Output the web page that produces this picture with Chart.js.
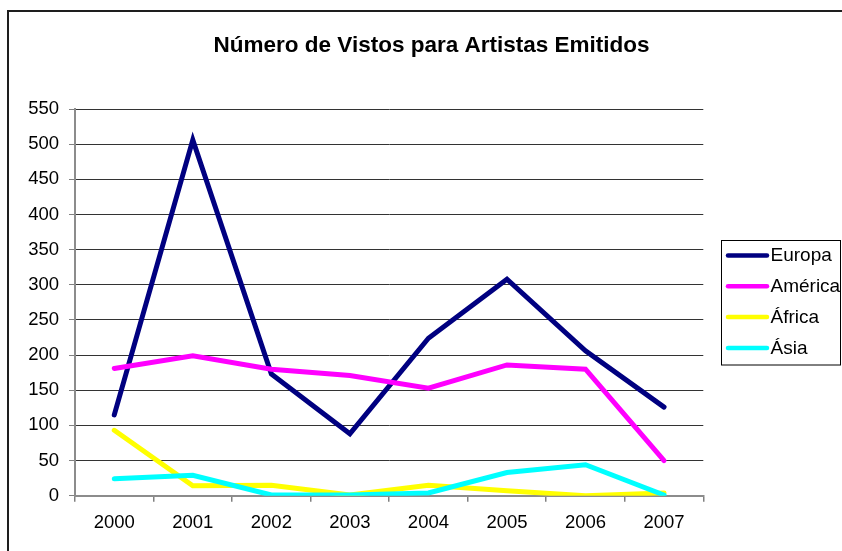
<!DOCTYPE html>
<html>
<head>
<meta charset="utf-8">
<script src="https://cdn.jsdelivr.net/npm/chart.js@4.4.1/dist/chart.umd.min.js"></script>
<style>
  html, body { margin: 0; padding: 0; background: #ffffff; overflow: hidden; }
  #wrap { position: relative; width: 842px; height: 551px; }
  canvas { display: block; }
</style>
</head>
<body>
<div id="wrap"><canvas id="c" width="842" height="551"></canvas></div>
<script>
const chartTitle = 'Número de Vistos para Artistas Emitidos';
const years = ['2000', '2001', '2002', '2003', '2004', '2005', '2006', '2007'];
const seriesNames = ['Europa', 'América', 'África', 'Ásia'];
const seriesColors = ['#000080', '#FF00FF', '#FFFF00', '#00FFFF'];
const europa = [115, 506, 173, 88, 224, 308, 206, 126];
const america = [181, 199, 180, 171, 153, 186, 180, 50];
const africa = [93, 14, 15, 1, 15, 7, 0, 4];
const asia = [24, 29, 1, 1, 4, 33, 44, 1];
const yTicks = [0, 50, 100, 150, 200, 250, 300, 350, 400, 450, 500, 550];

const FONT = '"Liberation Sans", Arial, sans-serif';
const seriesValues = [europa, america, africa, asia];

const frameAndLegend = {
  id: 'frameAndLegend',
  beforeDraw(chart) {
    const ctx = chart.ctx;
    ctx.save();
    ctx.fillStyle = '#ffffff';
    ctx.fillRect(0, 0, chart.width, chart.height);
    // outer chart border
    ctx.strokeStyle = '#1e1e1e';
    ctx.lineWidth = 2;
    ctx.strokeRect(8, 11, 900, 600);
    // title
    ctx.fillStyle = '#000000';
    ctx.font = 'bold 22.5px ' + FONT;
    ctx.textAlign = 'center';
    ctx.textBaseline = 'alphabetic';
    ctx.fillText(chartTitle, 431.5, 52);
    ctx.restore();
  },
  afterDraw(chart) {
    const ctx = chart.ctx;
    ctx.save();
    // legend box
    ctx.strokeStyle = '#000000';
    ctx.lineWidth = 1;
    ctx.strokeRect(721.5, 240.5, 119, 124.5);
    ctx.font = '19px ' + FONT;
    ctx.textAlign = 'left';
    ctx.textBaseline = 'middle';
    chart.data.datasets.forEach((ds, i) => {
      const y = 255.5 + i * 30.8;
      ctx.strokeStyle = ds.borderColor;
      ctx.lineWidth = 4.5;
      ctx.lineCap = 'round';
      ctx.beginPath();
      ctx.moveTo(728, y);
      ctx.lineTo(767, y);
      ctx.stroke();
      ctx.fillStyle = '#000000';
      ctx.fillText(ds.label, 770.5, y + 0.5);
    });
    ctx.restore();
  }
};

const datasets = seriesNames.map((name, i) => ({
  label: name,
  data: seriesValues[i],
  borderColor: seriesColors[i],
  backgroundColor: seriesColors[i],
  borderWidth: 5,
  borderCapStyle: 'round',
  borderJoinStyle: 'miter',
  pointRadius: 0,
  pointHoverRadius: 0,
  tension: 0,
  fill: false,
  order: seriesNames.length - i
}));

new Chart(document.getElementById('c'), {
  type: 'line',
  data: { labels: years, datasets: datasets },
  plugins: [frameAndLegend],
  options: {
    responsive: false,
    animation: false,
    devicePixelRatio: 1,
    layout: { padding: { top: 109, right: 138.7, bottom: 0, left: 0 } },
    plugins: {
      legend: { display: false },
      title: { display: false },
      tooltip: { enabled: false }
    },
    scales: {
      x: {
        type: 'category',
        offset: true,
        afterFit: (s) => { s.height = 55.3; },
        grid: {
          display: true,
          offset: true,
          drawOnChartArea: false,
          drawTicks: true,
          tickLength: 6,
          color: '#808080',
          lineWidth: 1.5
        },
        border: { display: true, color: '#8c8c8c', width: 2 },
        ticks: {
          color: '#000000',
          font: { family: FONT, size: 18.5 },
          padding: 10,
          maxRotation: 0,
          autoSkip: false
        }
      },
      y: {
        min: yTicks[0],
        max: yTicks[yTicks.length - 1],
        afterFit: (s) => { s.width = 75; },
        afterBuildTicks: (s) => { s.ticks = yTicks.map(v => ({ value: v })); },
        grid: {
          display: true,
          drawOnChartArea: true,
          drawTicks: true,
          tickLength: 6,
          color: (c) => (c.tick && c.tick.value === 0) ? '#8c8c8c' : '#333333',
          tickColor: '#808080',
          lineWidth: 1
        },
        border: { display: true, color: '#8c8c8c', width: 2 },
        ticks: {
          color: '#000000',
          font: { family: FONT, size: 18.5 },
          padding: 10
        }
      }
    }
  }
});
</script>
</body>
</html>
